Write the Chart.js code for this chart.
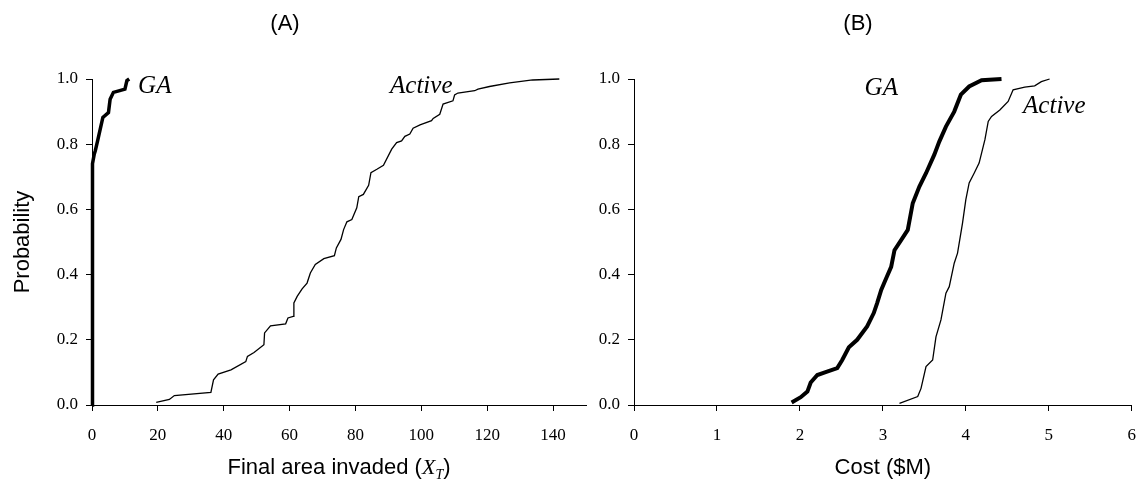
<!DOCTYPE html>
<html>
<head>
<meta charset="utf-8">
<script src="https://cdn.jsdelivr.net/npm/chart.js@4"></script>
<style>
  html, body { margin: 0; padding: 0; background: #fff; overflow: hidden; }
  body { width: 1141px; height: 484px; position: relative; }
  .panel { position: absolute; top: 0; }
  #chartA { left: 0; }
  #chartB { left: 590px; }
</style>
</head>
<body>
<canvas class="panel" id="chartA" width="590" height="484"></canvas>
<canvas class="panel" id="chartB" width="560" height="484"></canvas>
<script>
'use strict';

const SANS = '"Liberation Sans", Arial, sans-serif';
const SERIF = '"Liberation Serif", "Times New Roman", serif';

// shared probability axis
const probTicks = [0, 0.2, 0.4, 0.6, 0.8, 1.0];

// (A) final area invaded
const areaTicks = [0, 20, 40, 60, 80, 100, 120, 140];
const gaAreaX = [0, 0, 0.3, 0.7, 1.0, 1.7, 2.5, 3.3, 5.0, 5.5, 6.5, 10.0, 10.6, 11.3];
const gaAreaP = [0, 0.71, 0.74, 0.77, 0.78, 0.81, 0.846, 0.882, 0.897, 0.938, 0.959, 0.969, 0.995, 1.0];
const activeAreaX = [19.5, 23.5, 25, 36.1, 36.9, 38.3, 42.2, 46.7, 47.2, 49.2, 52.2, 52.4, 54.2, 58.8,
  59.5, 61.1, 61.3, 62.3, 63.8, 65.3, 66.3, 67.8, 70.4, 73.6, 74.2, 75.6, 76.4, 77.4, 78.9, 80.4,
  81, 82.4, 84, 84.7, 86.5, 88.5, 91, 92.5, 94, 95, 96.5, 97.5, 99.6, 103.1, 103.6, 105.6, 106.6,
  109.6, 110.1, 111.1, 116.2, 117.2, 120.7, 126.8, 133.8, 141.9];
const activeAreaP = [0.008, 0.017, 0.029, 0.039, 0.077, 0.095, 0.108, 0.133, 0.149, 0.161, 0.185, 0.221,
  0.243, 0.249, 0.267, 0.272, 0.313, 0.333, 0.356, 0.374, 0.405, 0.431, 0.449, 0.458, 0.482, 0.508,
  0.538, 0.562, 0.569, 0.605, 0.639, 0.646, 0.674, 0.713, 0.723, 0.735, 0.785, 0.805, 0.81, 0.824,
  0.831, 0.849, 0.859, 0.872, 0.879, 0.892, 0.923, 0.933, 0.951, 0.957, 0.964, 0.969, 0.977, 0.988,
  0.997, 1.0];

// (B) cost
const costTicks = [0, 1, 2, 3, 4, 5, 6];
const gaCostX = [1.90, 2.01, 2.09, 2.13, 2.21, 2.31, 2.45, 2.51, 2.59, 2.69, 2.81, 2.89, 2.93, 2.98,
  3.04, 3.10, 3.14, 3.22, 3.30, 3.36, 3.44, 3.52, 3.62, 3.68, 3.76, 3.86, 3.94, 4.04, 4.19, 4.43];
const gaCostP = [0.008, 0.024, 0.041, 0.069, 0.092, 0.101, 0.113, 0.138, 0.177, 0.2, 0.241, 0.282,
  0.312, 0.353, 0.389, 0.424, 0.475, 0.506, 0.537, 0.619, 0.67, 0.711, 0.768, 0.808, 0.854, 0.9,
  0.952, 0.977, 0.996, 1.0];
const activeCostX = [3.20, 3.42, 3.46, 3.52, 3.60, 3.64, 3.70, 3.76, 3.80, 3.86, 3.90, 3.96, 4.00,
  4.04, 4.10, 4.16, 4.23, 4.27, 4.31, 4.41, 4.51, 4.57, 4.71, 4.83, 4.91, 5.01];
const activeCostP = [0.005, 0.026, 0.051, 0.118, 0.138, 0.209, 0.261, 0.343, 0.363, 0.435, 0.466,
  0.558, 0.63, 0.681, 0.711, 0.742, 0.814, 0.87, 0.885, 0.905, 0.931, 0.967, 0.975, 0.979, 0.992, 1.0];

const toPoints = (xs, ys) => xs.map((x, i) => ({ x, y: ys[i] }));

// panel title, italic curve names and an x title that mixes fonts (X_T)
const extras = {
  id: 'extras',
  afterDraw(chart, args, opts) {
    const { ctx, chartArea, scales } = chart;
    ctx.save();
    ctx.fillStyle = '#000';

    ctx.textAlign = 'center';
    ctx.textBaseline = 'middle';
    ctx.font = `22px ${SANS}`;
    ctx.fillText(opts.title, opts.titleX, 24);

    ctx.textAlign = 'left';
    ctx.textBaseline = 'alphabetic';
    ctx.font = `italic 25px ${SERIF}`;
    opts.notes.forEach((n) => {
      ctx.fillText(n.text, scales.x.getPixelForValue(n.x), scales.y.getPixelForValue(n.y));
    });

    let w = 0;
    opts.xTitle.forEach((p) => {
      ctx.font = p.font;
      w += ctx.measureText(p.text).width;
    });
    let x = (chartArea.left + chartArea.right) / 2 - w / 2;
    opts.xTitle.forEach((p) => {
      ctx.font = p.font;
      ctx.fillText(p.text, x, opts.xTitleY + (p.dy || 0));
      x += ctx.measureText(p.text).width;
    });
    ctx.restore();
  },
};

function curve(xs, ys, width) {
  return {
    data: toPoints(xs, ys),
    showLine: true,
    borderColor: '#000',
    borderWidth: width,
    pointRadius: 0,
    tension: 0,
    clip: false,
  };
}

function makeChart(id, cfg) {
  return new Chart(document.getElementById(id), {
    type: 'scatter',
    data: { datasets: cfg.datasets },
    plugins: [extras],
    options: {
      responsive: false,
      animation: false,
      layout: { padding: { left: 0, right: cfg.padRight, top: 79, bottom: 0 } },
      plugins: {
        legend: { display: false },
        tooltip: { enabled: false },
        extras: {
          title: cfg.title,
          titleX: cfg.titleX,
          notes: cfg.notes,
          xTitle: cfg.xTitle,
          xTitleY: 474,
        },
      },
      scales: {
        x: {
          type: 'linear',
          min: 0,
          max: cfg.xMax,
          afterBuildTicks: (s) => { s.ticks = cfg.xTicks.map((v) => ({ value: v })); },
          afterFit: (s) => { s.height = 79; },
          border: { display: true, color: '#000', width: 1 },
          grid: { drawOnChartArea: false, tickLength: 6, tickColor: '#000', tickWidth: 1 },
          ticks: { color: '#000', font: { family: SERIF, size: 17 }, padding: 14, maxRotation: 0 },
        },
        y: {
          type: 'linear',
          min: 0,
          max: 1,
          afterBuildTicks: (s) => { s.ticks = probTicks.map((v) => ({ value: v })); },
          afterFit: (s) => { s.width = cfg.yWidth; },
          border: { display: true, color: '#000', width: 1 },
          grid: { drawOnChartArea: false, tickLength: 6, tickColor: '#000', tickWidth: 1 },
          ticks: {
            color: '#000',
            font: { family: SERIF, size: 17 },
            padding: 8,
            callback: (v) => v.toFixed(1),
          },
          title: {
            display: !!cfg.yTitle,
            text: cfg.yTitle || '',
            color: '#000',
            font: { family: SANS, size: 22 },
            padding: { top: 10, bottom: 0 },
          },
        },
      },
    },
  });
}

const sansTitle = `22px ${SANS}`;

makeChart('chartA', {
  title: '(A)',
  titleX: 285,
  xMax: 150,
  xTicks: areaTicks,
  yWidth: 92,
  padRight: 4,
  yTitle: 'Probability',
  datasets: [curve(gaAreaX, gaAreaP, 3.5), curve(activeAreaX, activeAreaP, 1.3)],
  notes: [
    { text: 'GA', x: 14, y: 0.958 },
    { text: 'Active', x: 90.5, y: 0.957 },
  ],
  xTitle: [
    { text: 'Final area invaded (', font: sansTitle },
    { text: 'X', font: `italic 22px ${SERIF}` },
    { text: 'T', font: `italic 14px ${SERIF}`, dy: 5 },
    { text: ')', font: sansTitle },
  ],
});

makeChart('chartB', {
  title: '(B)',
  titleX: 268,
  xMax: 6,
  xTicks: costTicks,
  yWidth: 44,
  padRight: 12,
  yTitle: '',
  datasets: [curve(gaCostX, gaCostP, 4), curve(activeCostX, activeCostP, 1.3)],
  notes: [
    { text: 'GA', x: 2.78, y: 0.952 },
    { text: 'Active', x: 4.69, y: 0.897 },
  ],
  xTitle: [{ text: 'Cost ($M)', font: sansTitle }],
});
</script>
</body>
</html>
